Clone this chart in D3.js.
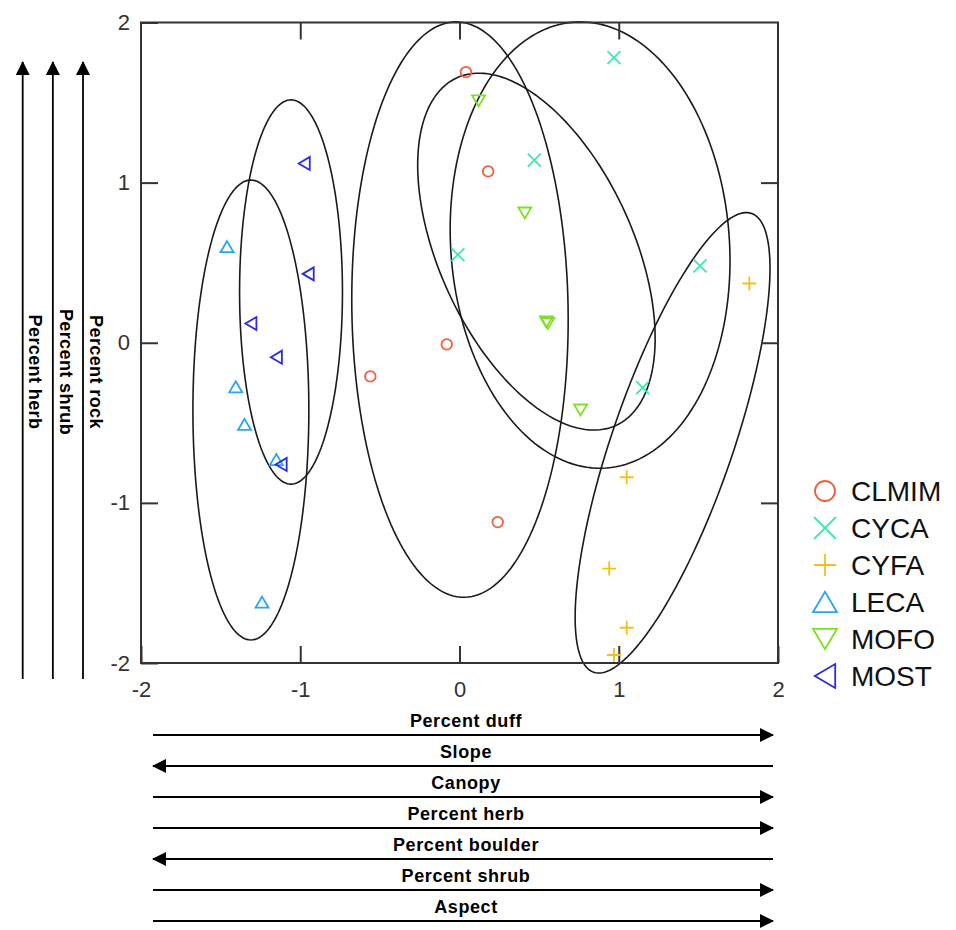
<!DOCTYPE html>
<html>
<head>
<meta charset="utf-8">
<script src="https://cdn.jsdelivr.net/npm/d3@7"></script>
<style>
  html, body { margin: 0; padding: 0; background: #fff; }
  svg { display: block; }
</style>
</head>
<body>
<svg id="chart" width="956" height="930"></svg>
<script>
// ---------------- DATA ----------------
const categories = ["CLMIM", "CYCA", "CYFA", "LECA", "MOFO", "MOST"];
const seriesColors = ["#f0603e", "#3fe6b6", "#f2c21a", "#2aa6f0", "#7fe024", "#2b2be6"];

const clmimX = [0.04, 0.18, -0.08, -0.56, 0.24];
const clmimY = [1.69, 1.07, -0.01, -0.21, -1.12];
const cycaX = [0.97, 0.47, -0.01, 1.51, 1.15];
const cycaY = [1.78, 1.14, 0.55, 0.48, -0.28];
const cyfaX = [1.82, 1.05, 0.94, 1.05, 0.97];
const cyfaY = [0.37, -0.84, -1.41, -1.78, -1.95];
const lecaX = [-1.46, -1.405, -1.35, -1.15, -1.24];
const lecaY = [0.60, -0.275, -0.51, -0.73, -1.62];
const mofoX = [0.12, 0.41, 0.545, 0.555, 0.76];
const mofoY = [1.51, 0.81, 0.13, 0.12, -0.42];
const mostX = [-0.975, -0.95, -1.31, -1.15, -1.12];
const mostY = [1.12, 0.43, 0.12, -0.09, -0.76];

// confidence ellipses (data units): centre, semi-axes, orientation of major axis (degrees)
const ellipseCenterX = [0.003, 0.82, 1.338, -1.31, 0.483, -1.058];
const ellipseCenterY = [0.207, 0.61, -0.625, -0.42, 0.569, 0.317];
const ellipseMajor   = [1.797, 1.396, 1.516, 1.436, 1.195, 1.20];
const ellipseMinor   = [0.679, 0.875, 0.379, 0.364, 0.608, 0.323];
const ellipseAngle   = [90.9, 94.2, 70.9, 90.0, 114.8, 90.0];

const tickValues = [-2, -1, 0, 1, 2];
const tickLabels = ["-2", "-1", "0", "1", "2"];
const innerTicks = [-1, 0, 1];

const leftVectors = ["Percent herb", "Percent shrub", "Percent rock"];
const bottomVectors = ["Percent duff", "Slope", "Canopy", "Percent herb", "Percent boulder", "Percent shrub", "Aspect"];
const bottomDirections = [1, -1, 1, 1, -1, 1, 1];

// ---------------- DRAW ----------------
const svg = d3.select("#chart");
const x = d3.scaleLinear().domain([-2, 2]).range([141, 778]);
const y = d3.scaleLinear().domain([-2, 2]).range([663, 22.5]);

const seriesX = [clmimX, cycaX, cyfaX, lecaX, mofoX, mostX];
const seriesY = [clmimY, cycaY, cyfaY, lecaY, mofoY, mostY];

// marker shapes
function shapePath(kind, s) {
  const p = d3.path();
  if (kind === 0) { // circle
    p.moveTo(s, 0); p.arc(0, 0, s, 0, 2 * Math.PI);
  } else if (kind === 1) { // x
    p.moveTo(-s, -s); p.lineTo(s, s); p.moveTo(-s, s); p.lineTo(s, -s);
  } else if (kind === 2) { // +
    p.moveTo(-s, 0); p.lineTo(s, 0); p.moveTo(0, -s); p.lineTo(0, s);
  } else if (kind === 3) { // up triangle
    const h = s * 1.7;
    p.moveTo(0, -h / 2); p.lineTo(s, h / 2); p.lineTo(-s, h / 2); p.closePath();
  } else if (kind === 4) { // down triangle
    const h = s * 1.7;
    p.moveTo(-s, -h / 2); p.lineTo(s, -h / 2); p.lineTo(0, h / 2); p.closePath();
  } else { // left triangle
    const w = s * 1.7;
    p.moveTo(-w / 2, 0); p.lineTo(w / 2, -s); p.lineTo(w / 2, s); p.closePath();
  }
  return p.toString();
}
const markerScale = [5.3, 6.5, 7, 6.5, 6.5, 6.5];

// ellipses
const ellipseLine = d3.line().curve(d3.curveLinearClosed);
const ellG = svg.append("g");
categories.forEach((c, i) => {
  const th = ellipseAngle[i] * Math.PI / 180;
  const pts = d3.range(0, 360, 2).map(deg => {
    const t = deg * Math.PI / 180;
    const dx = ellipseMajor[i] * Math.cos(t) * Math.cos(th) - ellipseMinor[i] * Math.sin(t) * Math.sin(th);
    const dy = ellipseMajor[i] * Math.cos(t) * Math.sin(th) + ellipseMinor[i] * Math.sin(t) * Math.cos(th);
    return [x(ellipseCenterX[i] + dx), y(ellipseCenterY[i] + dy)];
  });
  ellG.append("path").attr("d", ellipseLine(pts))
    .attr("fill", "none").attr("stroke", "#1a1a1a").attr("stroke-width", 1.6);
});

// frame & axes
const axisColor = "#333";
svg.append("rect").attr("x", x(-2)).attr("y", y(2))
  .attr("width", x(2) - x(-2)).attr("height", y(-2) - y(2))
  .attr("fill", "none").attr("stroke", axisColor).attr("stroke-width", 2);

const fmt = d => tickLabels[tickValues.indexOf(d)];
function styleAxis(g) {
  g.select(".domain").remove();
  g.selectAll(".tick line").attr("stroke", axisColor).attr("stroke-width", 2);
  g.selectAll(".tick text").attr("fill", "#333")
    .style("font-family", "'Liberation Sans', Arial, sans-serif").style("font-size", "22px");
}
svg.append("g").attr("transform", `translate(${x(-2)},0)`)
  .call(d3.axisLeft(y).tickValues(tickValues).tickSize(-17).tickPadding(11).tickFormat(fmt))
  .call(styleAxis);
svg.append("g").attr("transform", `translate(0,${y(-2)})`)
  .call(d3.axisBottom(x).tickValues(tickValues).tickSize(-17).tickPadding(18).tickFormat(fmt))
  .call(styleAxis);
svg.append("g").attr("transform", `translate(0,${y(2)})`)
  .call(d3.axisTop(x).tickValues(innerTicks).tickSize(-17).tickFormat(""))
  .call(styleAxis);
svg.append("g").attr("transform", `translate(${x(2)},0)`)
  .call(d3.axisRight(y).tickValues(innerTicks).tickSize(-17).tickFormat(""))
  .call(styleAxis);

// points
categories.forEach((c, i) => {
  svg.append("g").selectAll("path").data(d3.range(seriesX[i].length)).join("path")
    .attr("transform", j => `translate(${x(seriesX[i][j])},${y(seriesY[i][j])})`)
    .attr("d", shapePath(i, markerScale[i]))
    .attr("fill", "none").attr("stroke", seriesColors[i]).attr("stroke-width", 1.8);
});

// legend
const legendScale = [10, 11, 11, 12, 12, 12];
const leg = svg.append("g");
categories.forEach((c, i) => {
  const ly = 491 + i * 37;
  leg.append("path").attr("transform", `translate(825,${ly})`)
    .attr("d", shapePath(i, legendScale[i]))
    .attr("fill", "none").attr("stroke", seriesColors[i]).attr("stroke-width", 1.8);
  leg.append("text").attr("x", 851).attr("y", ly).attr("dy", "0.36em")
    .text(c).attr("fill", "#111")
    .style("font-family", "'Liberation Sans', Arial, sans-serif").style("font-size", "28px");
});

// arrow heads
const defs = svg.append("defs");
defs.append("marker").attr("id", "ah").attr("viewBox", "0 -7 14 14")
  .attr("refX", 13).attr("refY", 0).attr("markerWidth", 14).attr("markerHeight", 14)
  .attr("markerUnits", "userSpaceOnUse").attr("orient", "auto")
  .append("path").attr("d", "M0,-7L14,0L0,7Z").attr("fill", "#000");

const labelFont = "'Liberation Sans', Arial, sans-serif";

// left (vertical) vectors
const leftX = d3.scalePoint().domain(leftVectors).range([22.7, 83]);
leftVectors.forEach(v => {
  svg.append("line").attr("x1", leftX(v)).attr("x2", leftX(v))
    .attr("y1", 679).attr("y2", 62)
    .attr("stroke", "#000").attr("stroke-width", 1.8).attr("marker-end", "url(#ah)");
  svg.append("text")
    .attr("transform", `translate(${leftX(v) + 13},372) rotate(90)`)
    .attr("text-anchor", "middle").attr("dy", "0.35em")
    .style("font-family", labelFont).style("font-size", "18px").style("font-weight", "bold")
    .style("letter-spacing", "0.4px")
    .text(v);
});

// bottom (horizontal) vectors
const bottomY = d3.scalePoint().domain(d3.range(bottomVectors.length)).range([735, 921]);
bottomVectors.forEach((v, i) => {
  const yy = bottomY(i);
  const dir = bottomDirections[i];
  svg.append("line")
    .attr("x1", dir > 0 ? 153 : 773).attr("x2", dir > 0 ? 773 : 153)
    .attr("y1", yy).attr("y2", yy)
    .attr("stroke", "#000").attr("stroke-width", 1.8).attr("marker-end", "url(#ah)");
  svg.append("text").attr("x", 466).attr("y", yy - 8)
    .attr("text-anchor", "middle")
    .style("font-family", labelFont).style("font-size", "18px").style("font-weight", "bold")
    .style("letter-spacing", "0.6px")
    .text(v);
});
</script>
</body>
</html>
